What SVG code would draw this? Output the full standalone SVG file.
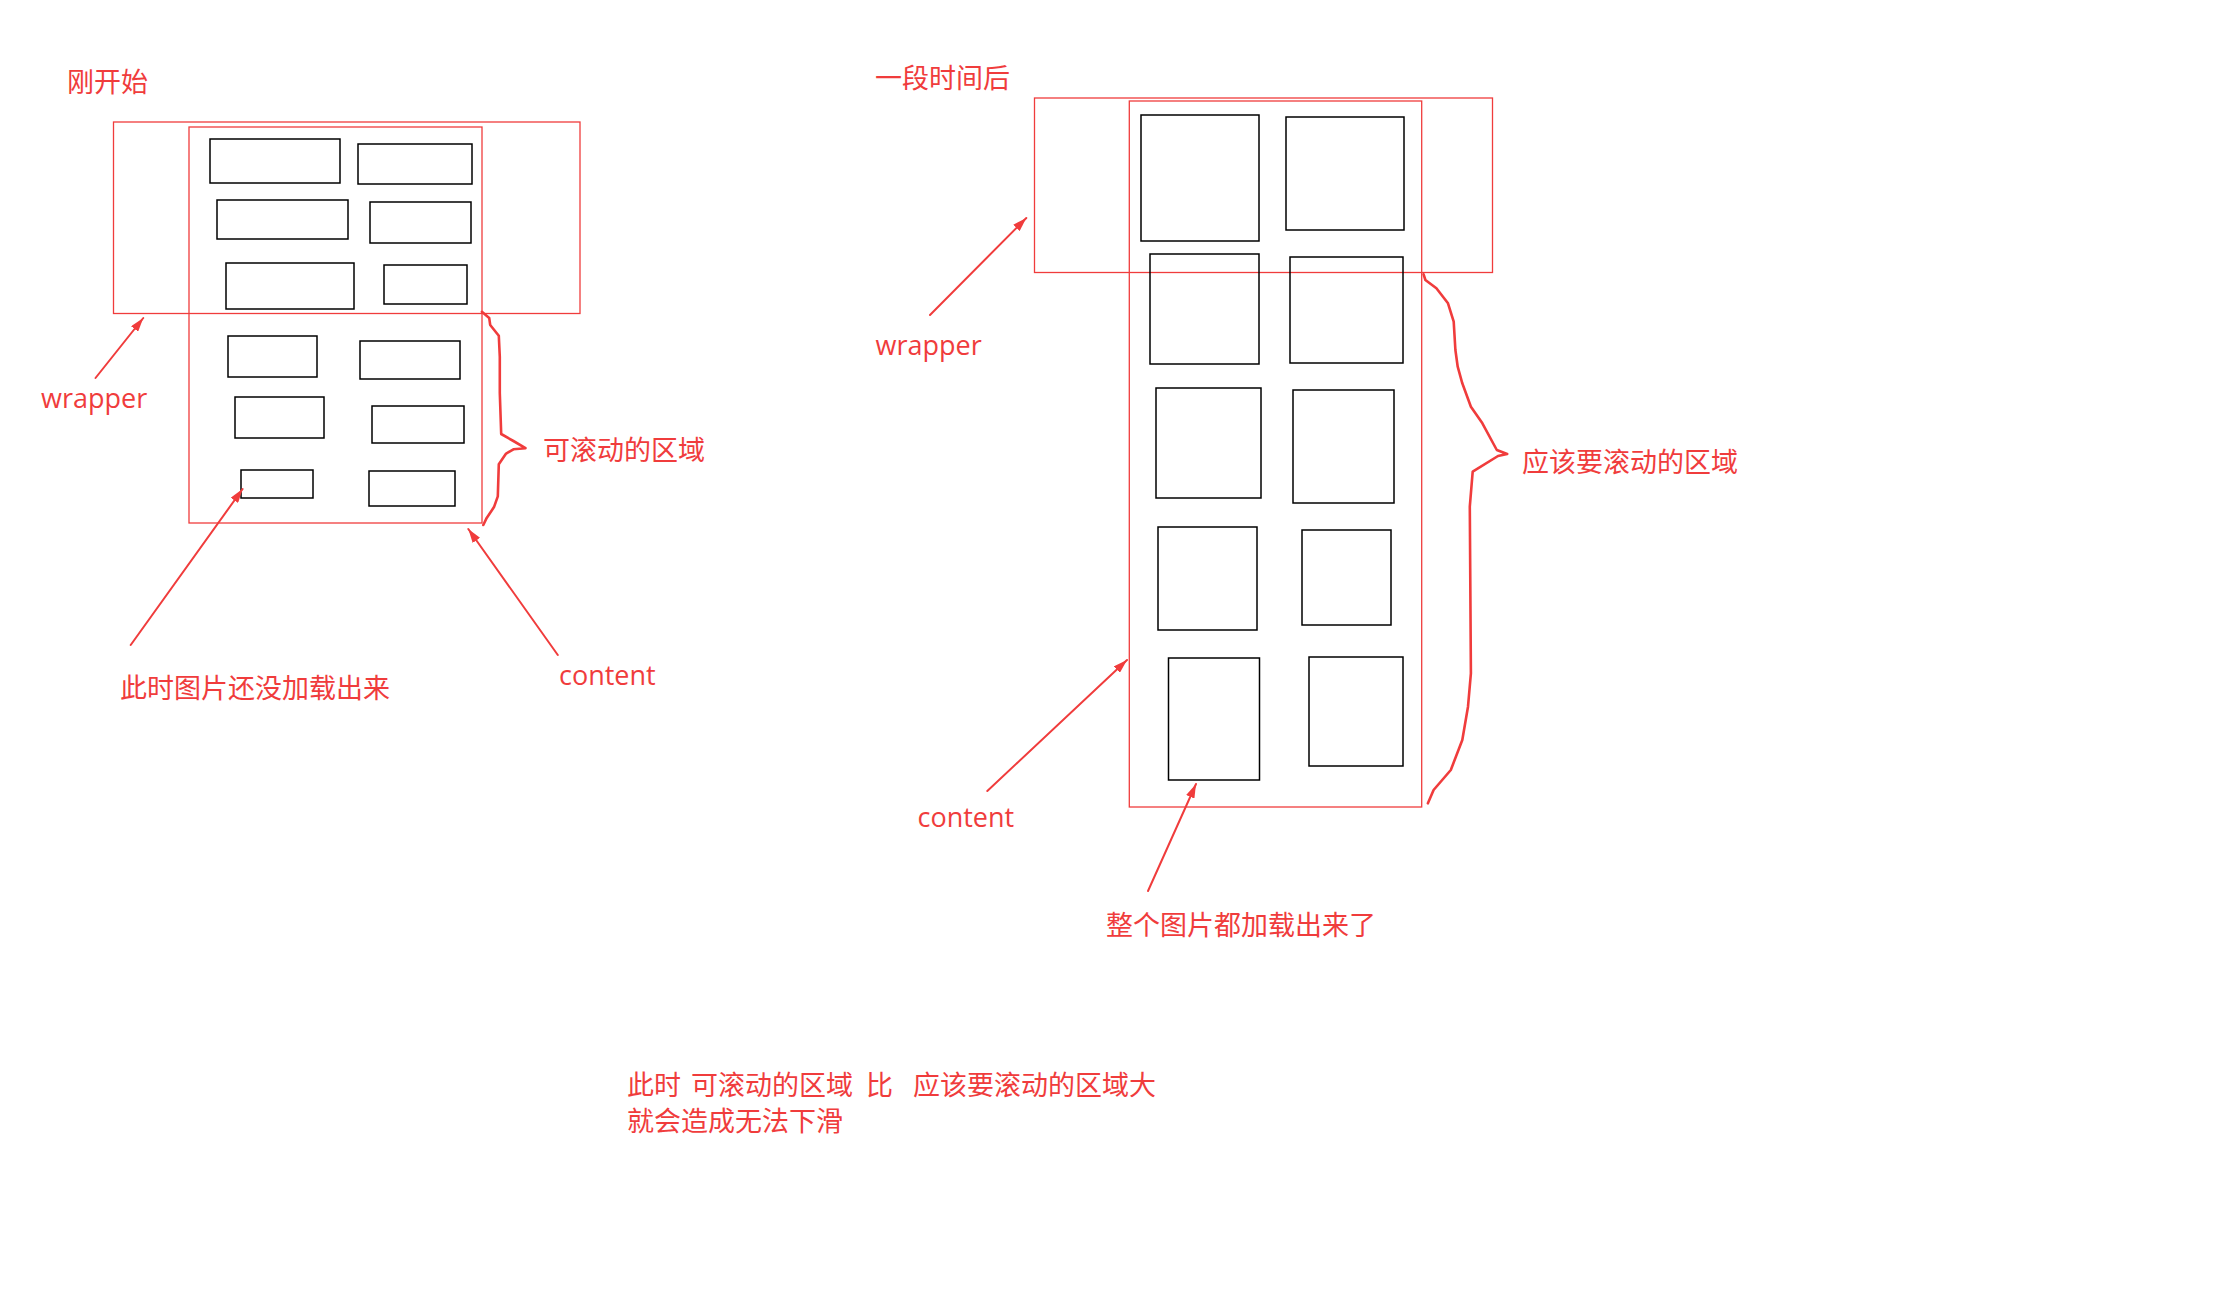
<svg xmlns="http://www.w3.org/2000/svg" width="2230" height="1310" viewBox="0 0 2230 1310">
<style>
.bg{fill:#ffffff}
.frame{fill:none;stroke:#f03c3c;stroke-width:1.3}
.img{fill:none;stroke:#000000;stroke-width:1.5}
.arr{fill:none;stroke:#f03c3c;stroke-width:2;stroke-linecap:round}
.brace{fill:none;stroke:#f03c3c;stroke-width:2.6;stroke-linejoin:round;stroke-linecap:round}
.cjk{font-family:"Noto Sans CJK SC","Microsoft YaHei",sans-serif;font-size:27px;fill:#f03c3c}
.lat{font-family:"Open Sans","Noto Sans",sans-serif;font-size:27px;fill:#f03c3c}
</style>
<defs>
<marker id="ah" markerUnits="userSpaceOnUse" markerWidth="15" markerHeight="9" refX="14" refY="4.5" orient="auto">
<path d="M0,0 L14,4.5 L0,9 Z" fill="#f03c3c"/>
</marker>
</defs>
<rect class="bg" x="0" y="0" width="2230" height="1310"/>

<g id="title-left"><text class="cjk" x="67" y="92">刚开始</text></g>
<g id="title-right"><text class="cjk" x="875" y="88">一段时间后</text></g>

<g id="wrapper-left"><rect class="frame" x="113.5" y="122" width="466.5" height="191.5"/></g>
<g id="content-left"><rect class="frame" x="189" y="127" width="293" height="396"/></g>

<g id="images-left">
<rect class="img" x="210" y="139" width="130" height="44"/>
<rect class="img" x="358" y="144" width="114" height="40"/>
<rect class="img" x="217" y="200" width="131" height="39"/>
<rect class="img" x="370" y="202" width="101" height="41"/>
<rect class="img" x="226" y="263" width="128" height="46"/>
<rect class="img" x="384" y="265" width="83" height="39"/>
<rect class="img" x="228" y="336" width="89" height="41"/>
<rect class="img" x="360" y="341" width="100" height="38"/>
<rect class="img" x="235" y="397" width="89" height="41"/>
<rect class="img" x="372" y="406" width="92" height="37"/>
<rect class="img" x="241" y="470" width="72" height="28"/>
<rect class="img" x="369" y="471" width="86" height="35"/>
</g>

<g id="wrapper-right"><rect class="frame" x="1034.5" y="98" width="458" height="174.5"/></g>
<g id="content-right"><rect class="frame" x="1129.3" y="101" width="292.4" height="706"/></g>

<g id="images-right">
<rect class="img" x="1141" y="115" width="118" height="126"/>
<rect class="img" x="1286" y="117" width="118" height="113"/>
<rect class="img" x="1150" y="254" width="109" height="110"/>
<rect class="img" x="1290" y="257" width="113" height="106"/>
<rect class="img" x="1156" y="388" width="105" height="110"/>
<rect class="img" x="1293" y="390" width="101" height="113"/>
<rect class="img" x="1158" y="527" width="99" height="103"/>
<rect class="img" x="1302" y="530" width="89" height="95"/>
<rect class="img" x="1168.5" y="658" width="91" height="122"/>
<rect class="img" x="1309" y="657" width="94" height="109"/>
</g>

<g id="connectors">
<line class="arr" x1="95.5" y1="378" x2="143.3" y2="318" marker-end="url(#ah)"/>
<line class="arr" x1="130.7" y1="645" x2="242.6" y2="489" marker-end="url(#ah)"/>
<line class="arr" x1="557.8" y1="655" x2="468.3" y2="529" marker-end="url(#ah)"/>
<line class="arr" x1="930" y1="315" x2="1026.3" y2="218" marker-end="url(#ah)"/>
<line class="arr" x1="987.3" y1="791" x2="1127" y2="660" marker-end="url(#ah)"/>
<line class="arr" x1="1148" y1="891" x2="1196" y2="784" marker-end="url(#ah)"/>
<path class="brace" d="M481.9,311.8 L489.2,317.9 L490.2,325 L498.8,335.7 L499.8,357 L499.8,393 L501.2,434 L513.4,441 L525.5,448.2 L513.4,449.3 L506.1,453.6 L498.8,464.3 L497.8,496.4 L494,507.1 L486.7,517.9 L483.3,525"/>
<path class="brace" d="M1423.6,274.3 L1425.4,280 L1436.4,288.3 L1448,303.3 L1453.7,321.7 L1455.4,350 L1457.7,366.7 L1462.3,383.3 L1470.9,406.7 L1482.4,423.3 L1496.8,450 L1507.2,454 L1498,456 L1472.7,471.7 L1469.8,506.7 L1470.9,673.3 L1468,706.7 L1462.3,740 L1450.8,770 L1433.6,790 L1427.9,803.3"/>
</g>

<g id="label-wrapper-left"><text class="lat" x="41" y="408">wrapper</text></g>
<g id="label-scrollable"><text class="cjk" x="543" y="460">可滚动的区域</text></g>
<g id="label-notloaded"><text class="cjk" x="120" y="698">此时图片还没加载出来</text></g>
<g id="label-content-left"><text class="lat" x="559" y="685">content</text></g>

<g id="label-wrapper-right"><text class="lat" x="875.5" y="355">wrapper</text></g>
<g id="label-should"><text class="cjk" x="1522" y="472">应该要滚动的区域</text></g>
<g id="label-content-right"><text class="lat" x="917.5" y="827">content</text></g>
<g id="label-loaded"><text class="cjk" x="1106" y="935">整个图片都加载出来了</text></g>

<g id="note">
<text class="cjk" xml:space="preserve" y="1095"><tspan x="627">此时 </tspan><tspan x="691">可滚动的区域  </tspan><tspan x="866">比  </tspan><tspan x="913">应该要滚动的区域大</tspan></text>
<text class="cjk" x="627" y="1131">就会造成无法下滑</text>
</g>
</svg>
